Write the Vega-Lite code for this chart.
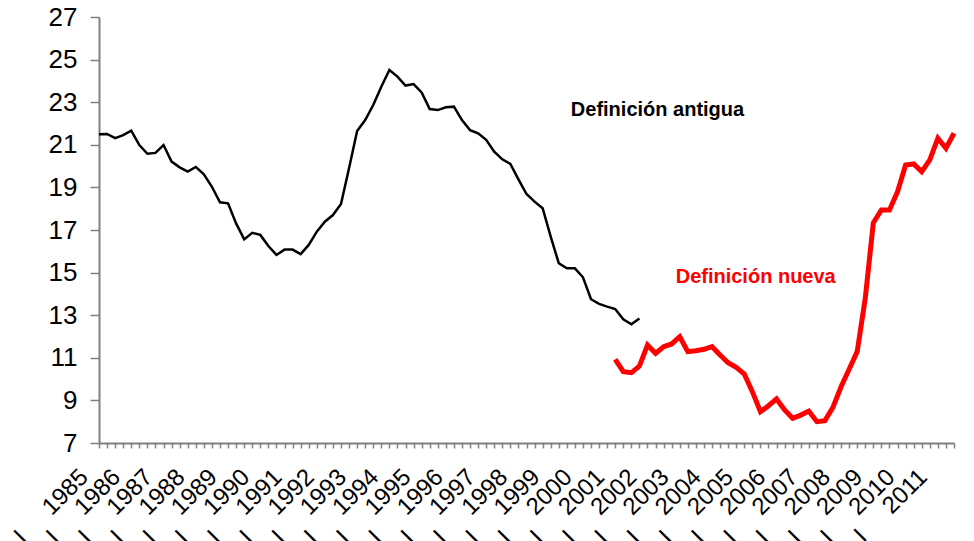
{
  "$schema": "https://vega.github.io/schema/vega-lite/v6.json",
  "autosize": {"type": "none"},
  "width": 855,
  "height": 426,
  "padding": {"left": 99, "top": 17, "right": 20, "bottom": 98},
  "background": "white",
  "config": {"view": {"stroke": null}, "font": "Liberation Sans"},
  "datasets": {
    "antigua": [
      {"q": "1985-1", "v": 21.49}, {"q": "1985-2", "v": 21.51}, {"q": "1985-3", "v": 21.31}, {"q": "1985-4", "v": 21.45},
      {"q": "1986-1", "v": 21.66}, {"q": "1986-2", "v": 20.99}, {"q": "1986-3", "v": 20.58}, {"q": "1986-4", "v": 20.62},
      {"q": "1987-1", "v": 20.99}, {"q": "1987-2", "v": 20.21}, {"q": "1987-3", "v": 19.94}, {"q": "1987-4", "v": 19.74},
      {"q": "1988-1", "v": 19.96}, {"q": "1988-2", "v": 19.61}, {"q": "1988-3", "v": 19.03}, {"q": "1988-4", "v": 18.30},
      {"q": "1989-1", "v": 18.25}, {"q": "1989-2", "v": 17.31}, {"q": "1989-3", "v": 16.56}, {"q": "1989-4", "v": 16.87},
      {"q": "1990-1", "v": 16.77}, {"q": "1990-2", "v": 16.25}, {"q": "1990-3", "v": 15.83}, {"q": "1990-4", "v": 16.08},
      {"q": "1991-1", "v": 16.08}, {"q": "1991-2", "v": 15.87}, {"q": "1991-3", "v": 16.30}, {"q": "1991-4", "v": 16.92},
      {"q": "1992-1", "v": 17.39}, {"q": "1992-2", "v": 17.70}, {"q": "1992-3", "v": 18.22}, {"q": "1992-4", "v": 19.90},
      {"q": "1993-1", "v": 21.65}, {"q": "1993-2", "v": 22.16}, {"q": "1993-3", "v": 22.87}, {"q": "1993-4", "v": 23.73},
      {"q": "1994-1", "v": 24.51}, {"q": "1994-2", "v": 24.20}, {"q": "1994-3", "v": 23.78}, {"q": "1994-4", "v": 23.85},
      {"q": "1995-1", "v": 23.46}, {"q": "1995-2", "v": 22.68}, {"q": "1995-3", "v": 22.63}, {"q": "1995-4", "v": 22.76},
      {"q": "1996-1", "v": 22.79}, {"q": "1996-2", "v": 22.16}, {"q": "1996-3", "v": 21.69}, {"q": "1996-4", "v": 21.54},
      {"q": "1997-1", "v": 21.23}, {"q": "1997-2", "v": 20.68}, {"q": "1997-3", "v": 20.32}, {"q": "1997-4", "v": 20.10},
      {"q": "1998-1", "v": 19.38}, {"q": "1998-2", "v": 18.69}, {"q": "1998-3", "v": 18.33}, {"q": "1998-4", "v": 18.02},
      {"q": "1999-1", "v": 16.69}, {"q": "1999-2", "v": 15.44}, {"q": "1999-3", "v": 15.20}, {"q": "1999-4", "v": 15.20},
      {"q": "2000-1", "v": 14.78}, {"q": "2000-2", "v": 13.75}, {"q": "2000-3", "v": 13.53}, {"q": "2000-4", "v": 13.40},
      {"q": "2001-1", "v": 13.29}, {"q": "2001-2", "v": 12.81}, {"q": "2001-3", "v": 12.57}, {"q": "2001-4", "v": 12.85}
    ],
    "nueva": [
      {"q": "2001-1", "v": 10.93}, {"q": "2001-2", "v": 10.35}, {"q": "2001-3", "v": 10.30}, {"q": "2001-4", "v": 10.61},
      {"q": "2002-1", "v": 11.60}, {"q": "2002-2", "v": 11.21}, {"q": "2002-3", "v": 11.52}, {"q": "2002-4", "v": 11.65},
      {"q": "2003-1", "v": 11.99}, {"q": "2003-2", "v": 11.29}, {"q": "2003-3", "v": 11.33}, {"q": "2003-4", "v": 11.40},
      {"q": "2004-1", "v": 11.52}, {"q": "2004-2", "v": 11.13}, {"q": "2004-3", "v": 10.77}, {"q": "2004-4", "v": 10.55},
      {"q": "2005-1", "v": 10.24}, {"q": "2005-2", "v": 9.41}, {"q": "2005-3", "v": 8.47}, {"q": "2005-4", "v": 8.75},
      {"q": "2006-1", "v": 9.07}, {"q": "2006-2", "v": 8.55}, {"q": "2006-3", "v": 8.16}, {"q": "2006-4", "v": 8.31},
      {"q": "2007-1", "v": 8.50}, {"q": "2007-2", "v": 8.00}, {"q": "2007-3", "v": 8.05}, {"q": "2007-4", "v": 8.68},
      {"q": "2008-1", "v": 9.64}, {"q": "2008-2", "v": 10.46}, {"q": "2008-3", "v": 11.29}, {"q": "2008-4", "v": 13.80},
      {"q": "2009-1", "v": 17.34}, {"q": "2009-2", "v": 17.94}, {"q": "2009-3", "v": 17.94}, {"q": "2009-4", "v": 18.80},
      {"q": "2010-1", "v": 20.05}, {"q": "2010-2", "v": 20.10}, {"q": "2010-3", "v": 19.74}, {"q": "2010-4", "v": 20.29},
      {"q": "2011-1", "v": 21.31}, {"q": "2011-2", "v": 20.84}, {"q": "2011-3", "v": 21.54}
    ],
    "labels": [
      {"q": "1999-3", "v": 22.63, "t": "Definición antigua", "s": "antigua"},
      {"q": "2002-4", "v": 14.79, "t": "Definición nueva", "s": "nueva"}
    ]
  },
  "encoding": {
    "x": {
      "field": "q",
      "type": "ordinal",
      "scale": {"type": "point", "padding": 0},
      "axis": {
        "title": null,
        "domainColor": "#808080",
        "domainWidth": 2,
        "tickColor": "#808080",
        "tickWidth": 1.5,
        "tickSize": 5,
        "labelAngle": -45,
        "labelAlign": "right",
        "labelBaseline": "alphabetic",
        "labelFontSize": 24,
        "labelColor": "black",
        "labelFont": "Liberation Sans",
        "labelPadding": 30,
        "labelOffset": -10,
        "labelOverlap": false,
        "labelBound": false,
        "labelFlush": false,
        "labelExpr": "split(datum.value,'-')[1]=='1' ? 'I\u00a0\u00a0\u00a0\u00a0\u00a0' + split(datum.value,'-')[0] : ''"
      }
    },
    "y": {
      "field": "v",
      "type": "quantitative",
      "scale": {"domain": [7, 27], "nice": false, "zero": false},
      "axis": {
        "title": null,
        "values": [7, 9, 11, 13, 15, 17, 19, 21, 23, 25, 27],
        "grid": false,
        "domainColor": "#808080",
        "domainWidth": 2,
        "tickColor": "#808080",
        "tickWidth": 1.5,
        "tickSize": 9,
        "labelPadding": 13,
        "labelFontSize": 26,
        "labelColor": "black",
        "labelFont": "Liberation Sans"
      }
    }
  },
  "layer": [
    {
      "data": {"name": "antigua"},
      "mark": {"type": "line", "color": "black", "strokeWidth": 2.5, "strokeJoin": "miter"}
    },
    {
      "data": {"name": "nueva"},
      "mark": {"type": "line", "color": "#FF0000", "strokeWidth": 5, "strokeJoin": "miter"}
    },
    {
      "data": {"name": "labels"},
      "mark": {"type": "text", "align": "left", "baseline": "middle", "fontWeight": "bold", "fontSize": 20, "font": "Liberation Sans", "dx": 4},
      "encoding": {
        "text": {"field": "t"},
        "color": {"field": "s", "type": "nominal", "scale": {"domain": ["antigua", "nueva"], "range": ["black", "#FF0000"]}, "legend": null}
      }
    }
  ]
}
